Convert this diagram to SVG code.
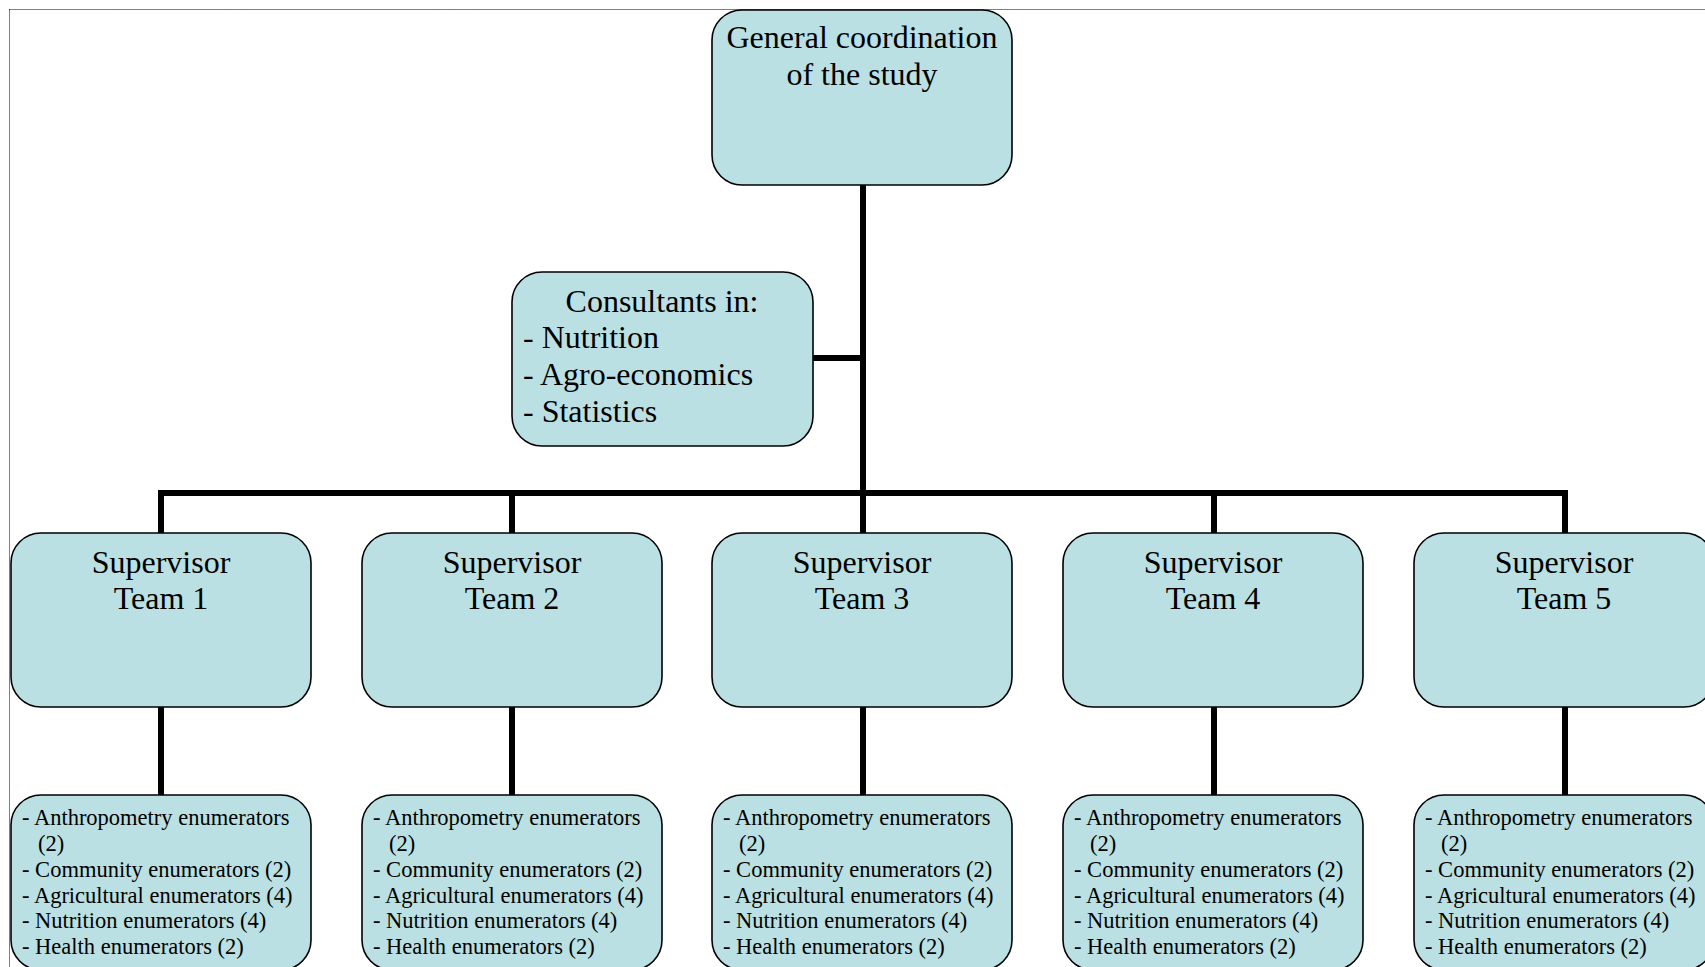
<svg xmlns="http://www.w3.org/2000/svg" width="1705" height="967" viewBox="0 0 1705 967">
<style>
.box{fill:#BAE0E3;stroke:#000;stroke-width:1.6}
.big{font-family:"Liberation Serif","Times New Roman",serif;font-size:32px;fill:#000}
.mid{text-anchor:middle}
.small{font-family:"Liberation Serif","Times New Roman",serif;font-size:22.5px;fill:#000}
.conn{stroke:#000;stroke-width:6;fill:none;stroke-linecap:butt}
.frame{stroke:#000;stroke-width:1;stroke-dasharray:1 1;fill:none}
</style>
<rect width="1705" height="967" fill="#fff"/>
<g id="frame">
<path class="frame" d="M9.5 9.5 H1705 M9.5 9.5 V967"/>
</g>
<g id="connectors">
<path class="conn" d="M863 185 V533"/>
<path class="conn" d="M813 358 H863"/>
<path class="conn" d="M161 493 H1565"/>
<path class="conn" d="M161 490 V533 M512 493 V533 M1214 493 V533 M1565 490 V533"/>
<path class="conn" d="M161 707 V795 M512 707 V795 M863 707 V795 M1214 707 V795 M1565 707 V795"/>
</g>
<g id="general">
<rect class="box" x="712" y="10" width="300" height="175" rx="30"/>
<text class="big mid" x="862" y="48">General coordination</text>
<text class="big mid" x="862" y="85">of the study</text>
</g>
<g id="consultants">
<rect class="box" x="512" y="272" width="301" height="174" rx="30"/>
<text class="big mid" x="662" y="312">Consultants in:</text>
<text class="big" x="523" y="348">- Nutrition</text>
<text class="big" x="523" y="385">- Agro-economics</text>
<text class="big" x="523" y="422">- Statistics</text>
</g>
<g id="supervisor1">
<rect class="box" x="11" y="533" width="300" height="174" rx="30"/>
<text class="big mid" x="161" y="573">Supervisor</text>
<text class="big mid" x="161" y="609">Team 1</text>
</g>
<g id="supervisor2">
<rect class="box" x="362" y="533" width="300" height="174" rx="30"/>
<text class="big mid" x="512" y="573">Supervisor</text>
<text class="big mid" x="512" y="609">Team 2</text>
</g>
<g id="supervisor3">
<rect class="box" x="712" y="533" width="300" height="174" rx="30"/>
<text class="big mid" x="862" y="573">Supervisor</text>
<text class="big mid" x="862" y="609">Team 3</text>
</g>
<g id="supervisor4">
<rect class="box" x="1063" y="533" width="300" height="174" rx="30"/>
<text class="big mid" x="1213" y="573">Supervisor</text>
<text class="big mid" x="1213" y="609">Team 4</text>
</g>
<g id="supervisor5">
<rect class="box" x="1414" y="533" width="300" height="174" rx="30"/>
<text class="big mid" x="1564" y="573">Supervisor</text>
<text class="big mid" x="1564" y="609">Team 5</text>
</g>
<g id="team1">
<rect class="box" x="11" y="795" width="300" height="175" rx="30"/>
<text class="small" x="22" y="825">- Anthropometry enumerators</text>
<text class="small" x="38" y="851">(2)</text>
<text class="small" x="22" y="877">- Community enumerators (2)</text>
<text class="small" x="22" y="903">- Agricultural enumerators (4)</text>
<text class="small" x="22" y="928">- Nutrition enumerators (4)</text>
<text class="small" x="22" y="954">- Health enumerators (2)</text>
</g>
<g id="team2">
<rect class="box" x="362" y="795" width="300" height="175" rx="30"/>
<text class="small" x="373" y="825">- Anthropometry enumerators</text>
<text class="small" x="389" y="851">(2)</text>
<text class="small" x="373" y="877">- Community enumerators (2)</text>
<text class="small" x="373" y="903">- Agricultural enumerators (4)</text>
<text class="small" x="373" y="928">- Nutrition enumerators (4)</text>
<text class="small" x="373" y="954">- Health enumerators (2)</text>
</g>
<g id="team3">
<rect class="box" x="712" y="795" width="300" height="175" rx="30"/>
<text class="small" x="723" y="825">- Anthropometry enumerators</text>
<text class="small" x="739" y="851">(2)</text>
<text class="small" x="723" y="877">- Community enumerators (2)</text>
<text class="small" x="723" y="903">- Agricultural enumerators (4)</text>
<text class="small" x="723" y="928">- Nutrition enumerators (4)</text>
<text class="small" x="723" y="954">- Health enumerators (2)</text>
</g>
<g id="team4">
<rect class="box" x="1063" y="795" width="300" height="175" rx="30"/>
<text class="small" x="1074" y="825">- Anthropometry enumerators</text>
<text class="small" x="1090" y="851">(2)</text>
<text class="small" x="1074" y="877">- Community enumerators (2)</text>
<text class="small" x="1074" y="903">- Agricultural enumerators (4)</text>
<text class="small" x="1074" y="928">- Nutrition enumerators (4)</text>
<text class="small" x="1074" y="954">- Health enumerators (2)</text>
</g>
<g id="team5">
<rect class="box" x="1414" y="795" width="300" height="175" rx="30"/>
<text class="small" x="1425" y="825">- Anthropometry enumerators</text>
<text class="small" x="1441" y="851">(2)</text>
<text class="small" x="1425" y="877">- Community enumerators (2)</text>
<text class="small" x="1425" y="903">- Agricultural enumerators (4)</text>
<text class="small" x="1425" y="928">- Nutrition enumerators (4)</text>
<text class="small" x="1425" y="954">- Health enumerators (2)</text>
</g>
</svg>
